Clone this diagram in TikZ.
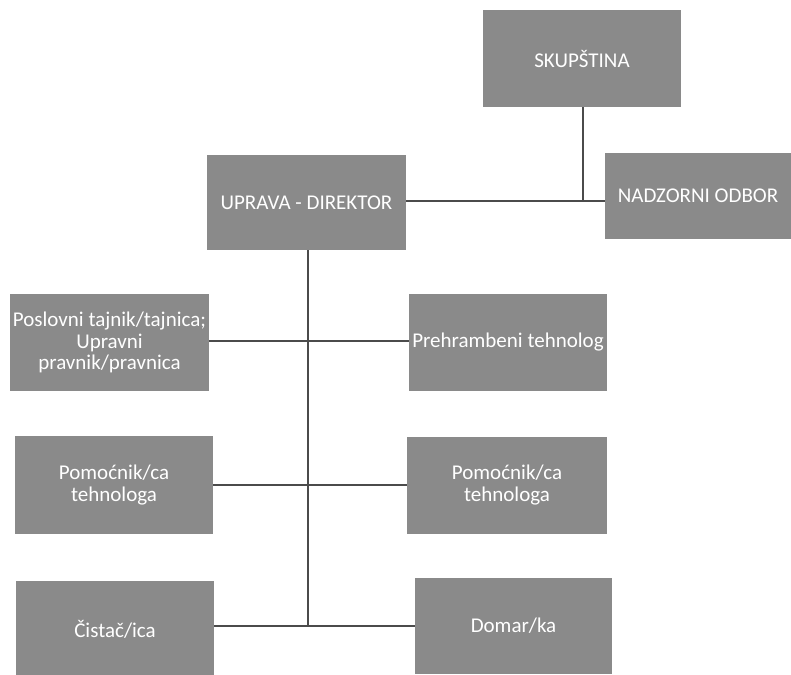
\documentclass[tikz,border=0pt]{standalone}
\usepackage{fontspec}
\setmainfont{Carlito}
\definecolor{boxgray}{RGB}{138,138,138}
\definecolor{linegray}{RGB}{75,75,75}
\begin{document}
\begin{tikzpicture}[x=1pt,y=-1pt,
  orgbox/.style={fill=boxgray,draw=none,text=white,align=center,inner sep=0pt,
    font=\fontsize{21}{21.5}\selectfont,minimum width=#1},
  orgbox/.default=198pt,
  conn/.style={draw=linegray,line width=1.5pt}]
\useasboundingbox (0,0) rectangle (791,674);
\node[orgbox, minimum height=97pt] (skup) at (582,58.5) {SKUPŠTINA};
\node[orgbox=186pt, minimum height=86pt] (nad) at (698,196) {NADZORNI ODBOR};
\node[orgbox=199pt, minimum height=95pt] (upr) at (306.5,202.5) {UPRAVA - DIREKTOR};
\node[orgbox=199pt, minimum height=97pt] (pos) at (109.5,342.5) {Poslovni tajnik/tajnica;\\Upravni\\pravnik/pravnica};
\node[orgbox, minimum height=97pt] (preh) at (508,342.5) {Prehrambeni tehnolog};
\node[orgbox, minimum height=98pt] (poml) at (114,485) {Pomoćnik/ca\\tehnologa};
\node[orgbox=200pt, minimum height=97pt] (pomr) at (507,485) {Pomoćnik/ca\\tehnologa};
\node[orgbox, minimum height=96pt] (cist) at (115,629) {Čistač/ica};
\node[orgbox=197pt, minimum height=96pt] (dom) at (513.5,626) {Domar/ka};
\coordinate (jt) at (583,201);
\coordinate (tb) at (308,626);
\draw[conn] (skup.south -| jt) -- (jt);
\draw[conn] (upr.east |- jt) -- (nad.west |- jt);
\draw[conn] (upr.south -| tb) -- (tb);
\draw[conn] (pos.east |- 0,341) -- (preh.west |- 0,341);
\draw[conn] (poml.east) -- (pomr.west);
\draw[conn] (cist.east |- tb) -- (dom.west |- tb);
\end{tikzpicture}
\end{document}
